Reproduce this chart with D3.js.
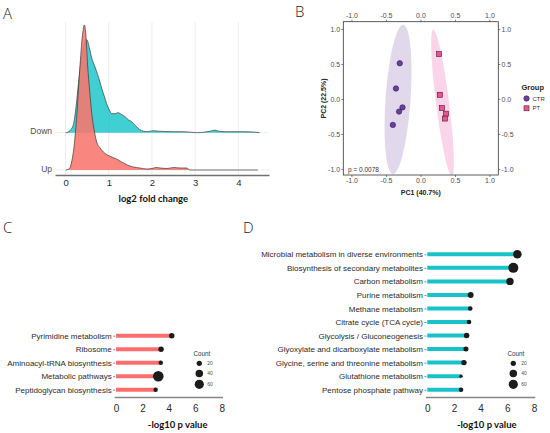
<!DOCTYPE html>
<html>
<head>
<meta charset="utf-8">
<script src="https://cdn.jsdelivr.net/npm/d3@7"></script>
<style>
  body { margin: 0; background: #fff; }
  svg { display: block; font-family: "Liberation Sans", Arial, sans-serif; }
</style>
</head>
<body>
<svg id="fig" width="550" height="433" font-family="Liberation Sans, Arial, sans-serif"></svg>
<script>
// ---- panel A: ridgeline of log2 fold change ----
var ridgeGroups = ["Up", "Down"];
var foldTicks = [0, 1, 2, 3, 4];
var downX = [0, 0.05, 0.12, 0.18, 0.24, 0.30, 0.36, 0.42, 0.49, 0.55, 0.61, 0.67, 0.72, 0.78, 0.84, 0.90, 0.95, 1.01, 1.07, 1.14,
             1.22, 1.30, 1.38, 1.45, 1.53, 1.62, 1.72, 1.80, 1.88, 1.95, 2.03, 2.15, 2.30, 2.50, 2.70, 2.90, 3.04, 3.20, 3.35, 3.45,
             3.55, 3.70, 3.90, 4.10, 4.30, 4.49];
var downDensity = [0, 0.01, 0.06, 0.16, 0.5, 1.0, 1.44, 1.72, 1.86, 1.70, 1.48, 1.34, 1.22, 1.06, 0.88, 0.72, 0.58, 0.46, 0.38, 0.38,
                   0.40, 0.36, 0.32, 0.26, 0.22, 0.14, 0.06, 0.03, 0.02, 0.03, 0.04, 0.03, 0.024, 0.02, 0.02, 0.01, 0, 0.01, 0.03, 0.05,
                   0.03, 0.02, 0.02, 0.02, 0.016, 0];
var upX = [0, 0.05, 0.10, 0.14, 0.20, 0.26, 0.335, 0.40, 0.435, 0.47, 0.51, 0.56, 0.61, 0.67, 0.72, 0.80, 0.875, 0.97, 1.07, 1.18,
           1.30, 1.43, 1.57, 1.72, 1.88, 2.00, 2.10, 2.20, 2.35, 2.50, 2.65, 2.80, 2.88, 3.00, 4.45];
var upDensity = [0, 0.01, 0.04, 0.16, 0.5, 1.1, 2.1, 2.76, 2.9, 2.7, 2.1, 1.56, 1.1, 0.76, 0.56, 0.44, 0.36, 0.30, 0.26, 0.22,
                 0.16, 0.10, 0.06, 0.04, 0.02, 0.03, 0.05, 0.04, 0.03, 0.05, 0.04, 0.04, 0, 0, 0];

// ---- panel B: PCA ----
var pcaTicks = [-1, -0.5, 0, 0.5, 1];
var ctrPC1 = [-0.30, -0.355, -0.26, -0.31, -0.40];
var ctrPC2 = [0.51, 0.15, -0.12, -0.18, -0.37];
var ptPC1 = [0.27, 0.28, 0.31, 0.37, 0.355];
var ptPC2 = [0.64, 0.06, -0.13, -0.21, -0.28];
var groupNames = ["CTR", "PT"];
var ellipseCenter = [[-0.325, -0.005], [0.32, -0.055]];
var ellipseMajor = [[0.075, 1.065], [-0.135, 1.045]];
var ellipseMinor = [[0.18, -0.0123], [0.0935, 0.0117]];

// ---- panel C: up-regulated pathways ----
var pathC = ["Pyrimidine metabolism", "Ribosome", "Aminoacyl-tRNA biosynthesis", "Metabolic pathways", "Peptidoglycan biosynthesis"];
var pvalC = [4.22, 3.41, 3.39, 3.20, 3.00];
var countC = [21, 21, 14, 80, 14];

// ---- panel D: down-regulated pathways ----
var pathD = ["Microbial metabolism in diverse environments", "Biosynthesis of secondary metabolites", "Carbon metabolism",
             "Purine metabolism", "Methane metabolism", "Citrate cycle (TCA cycle)", "Glycolysis / Gluconeogenesis",
             "Glyoxylate and dicarboxylate metabolism", "Glycine, serine and threonine metabolism", "Glutathione metabolism",
             "Pentose phosphate pathway"];
var pvalD = [6.75, 6.45, 6.20, 3.25, 3.22, 3.13, 2.95, 2.90, 2.75, 2.53, 2.53];
var countD = [52, 71, 39, 25, 15, 15, 21, 18, 21, 8, 15];

var pTicks = [0, 2, 4, 6, 8];
var countLegend = [20, 40, 60];

var svg = d3.select("#fig");
var titleFont = "Lato, 'Open Sans', sans-serif";

function panelLetter(txt, x, y) {
  svg.append("text").attr("x", x).attr("y", y).text(txt)
    .attr("font-family", "'Open Sans', sans-serif").attr("font-weight", 300)
    .attr("font-size", 15).attr("fill", "#222");
}

// ================= A =================
panelLetter("A", 3, 18.5);
var gA = svg.append("g");
var xA = d3.scaleLinear().domain([-0.245, 4.71]).range([55, 269]);
var yA = d3.scalePoint().domain(ridgeGroups).range([170, 132.7]);
var hA = d3.scaleLinear().domain([0, 1]).range([0, 50]);

gA.selectAll(".vgrid").data(foldTicks).enter().append("line")
  .attr("x1", function(d) { return xA(d); }).attr("x2", function(d) { return xA(d); })
  .attr("y1", 22).attr("y2", 175)
  .attr("stroke", "#e8e8e8").attr("stroke-width", 0.8);
gA.selectAll(".hgrid").data(ridgeGroups).enter().append("line")
  .attr("x1", 55).attr("x2", 269)
  .attr("y1", function(d) { return yA(d); }).attr("y2", function(d) { return yA(d); })
  .attr("stroke", "#e8e8e8").attr("stroke-width", 0.8);

var ridges = [
  {group: "Down", xs: downX, dens: downDensity, fill: "#00BFC4", op: 0.75},
  {group: "Up", xs: upX, dens: upDensity, fill: "#F8766D", op: 0.88}
];
ridges.forEach(function(r) {
  var base = yA(r.group);
  var pts = r.xs.map(function(v, i) { return [v, r.dens[i]]; });
  var area = d3.area().curve(d3.curveMonotoneX)
    .x(function(p) { return xA(p[0]); })
    .y0(base)
    .y1(function(p) { return base - hA(p[1]); });
  var line = d3.line().curve(d3.curveMonotoneX)
    .x(function(p) { return xA(p[0]); })
    .y(function(p) { return base - hA(p[1]); });
  gA.append("path").attr("d", area(pts)).attr("fill", r.fill).attr("fill-opacity", r.op);
  gA.append("path").attr("d", line(pts)).attr("fill", "none").attr("stroke", "#3a3a3a").attr("stroke-width", 0.7);
});

gA.selectAll(".rlab").data(ridgeGroups).enter().append("text")
  .attr("x", 52).attr("y", function(d) { return yA(d) + 1.6; })
  .attr("text-anchor", "end").attr("font-size", 8.5).attr("fill", "#4d4d4d")
  .text(function(d) { return d; });

var axA = gA.append("g").attr("transform", "translate(0,175)")
  .call(d3.axisBottom(xA).tickValues(foldTicks).tickFormat(d3.format("d"))
    .tickSize(0).tickSizeOuter(0).tickPadding(4.5));
axA.attr("font-family", null).attr("font-size", null);
axA.select(".domain").attr("stroke", "#707070").attr("stroke-width", 1.6);
axA.selectAll("text").attr("font-size", 9.5).attr("fill", "#2a2a2a");
gA.append("text").attr("x", 153.3).attr("y", 202).attr("text-anchor", "middle")
  .attr("font-family", titleFont).attr("font-weight", "bold").attr("font-size", 9.5).attr("fill", "#111")
  .text("log2 fold change");

// ================= B =================
panelLetter("B", 295, 17);
var gB = svg.append("g");
var xB = d3.scaleLinear().domain([-1.118, 1.128]).range([343.3, 498.3]);
var yB = d3.scaleLinear().domain([-1.086, 1.104]).range([175, 21.7]);

gB.append("clipPath").attr("id", "clipB").append("rect")
  .attr("x", 343.3).attr("y", 21.7).attr("width", 155).attr("height", 153.3);

var ellColors = ["#6a3d9a", "#e7298a"];
var angles = d3.range(0, 361, 4).map(function(a) { return a * Math.PI / 180; });
groupNames.forEach(function(g, i) {
  var c = ellipseCenter[i], M = ellipseMajor[i], m = ellipseMinor[i];
  var line = d3.line()
    .x(function(t) { return xB(c[0] + M[0] * Math.cos(t) + m[0] * Math.sin(t)); })
    .y(function(t) { return yB(c[1] + M[1] * Math.cos(t) + m[1] * Math.sin(t)); });
  gB.append("path").attr("d", line(angles) + "Z").attr("clip-path", "url(#clipB)")
    .attr("fill", ellColors[i]).attr("fill-opacity", 0.2).attr("stroke", "none");
});

var fmtB = function(d) { return d.toFixed(1); };
function styleAxisB(sel) {
  sel.attr("font-family", null).attr("font-size", null);
  sel.select(".domain").remove();
  sel.selectAll("line").attr("stroke", "#333").attr("stroke-width", 0.6);
  sel.selectAll("text").attr("font-size", 7).attr("fill", "#4d4d4d");
}
gB.append("g").attr("transform", "translate(0,175)")
  .call(d3.axisBottom(xB).tickValues(pcaTicks).tickFormat(fmtB).tickSize(2).tickPadding(1.5)).call(styleAxisB);
gB.append("g").attr("transform", "translate(0,21.7)")
  .call(d3.axisTop(xB).tickValues(pcaTicks).tickFormat(fmtB).tickSize(2).tickPadding(1.5)).call(styleAxisB);
gB.append("g").attr("transform", "translate(343.3,0)")
  .call(d3.axisLeft(yB).tickValues(pcaTicks).tickFormat(fmtB).tickSize(2).tickPadding(1.2)).call(styleAxisB);
gB.append("g").attr("transform", "translate(498.3,0)")
  .call(d3.axisRight(yB).tickValues(pcaTicks).tickFormat(fmtB).tickSize(2).tickPadding(1.2)).call(styleAxisB);
gB.append("rect").attr("x", 343.3).attr("y", 21.7).attr("width", 155).attr("height", 153.3)
  .attr("fill", "none").attr("stroke", "#333").attr("stroke-width", 0.8);

gB.selectAll(".ctr").data(ctrPC1).enter().append("circle")
  .attr("cx", function(d) { return xB(d); })
  .attr("cy", function(d, i) { return yB(ctrPC2[i]); })
  .attr("r", 2.7).attr("fill", "#6b3fa0").attr("stroke", "#2e1a4f").attr("stroke-width", 0.6);
gB.selectAll(".pt").data(ptPC1).enter().append("rect")
  .attr("x", function(d) { return xB(d) - 2.5; })
  .attr("y", function(d, i) { return yB(ptPC2[i]) - 2.5; })
  .attr("width", 5).attr("height", 5)
  .attr("fill", "#e8558f").attr("stroke", "#4a1633").attr("stroke-width", 0.6);

gB.append("text").attr("x", 348).attr("y", 172.3).attr("font-size", 6.5).attr("fill", "#333").text("p = 0.0078");
gB.append("text").attr("x", 420.8).attr("y", 195.3).attr("text-anchor", "middle")
  .attr("font-weight", "bold").attr("font-size", 7).attr("fill", "#222").text("PC1 (40.7%)");
gB.append("text").attr("transform", "translate(325.8,98.5) rotate(-90)").attr("text-anchor", "middle")
  .attr("font-weight", "bold").attr("font-size", 7).attr("fill", "#222").text("PC2 (22.5%)");

// legend
gB.append("text").attr("x", 521.5).attr("y", 90).attr("font-weight", "bold").attr("font-size", 7.5).attr("fill", "#222").text("Group");
gB.append("circle").attr("cx", 526.5).attr("cy", 98.5).attr("r", 2.7)
  .attr("fill", "#6b3fa0").attr("stroke", "#2e1a4f").attr("stroke-width", 0.6);
gB.append("rect").attr("x", 524).attr("y", 105.8).attr("width", 5).attr("height", 5)
  .attr("fill", "#e8558f").attr("stroke", "#4a1633").attr("stroke-width", 0.6);
gB.selectAll(".glab").data(groupNames).enter().append("text")
  .attr("x", 532.5).attr("y", function(d, i) { return 100.6 + i * 9.8; })
  .attr("font-size", 6).attr("fill", "#333").text(function(d) { return d; });

// ================= C & D =================
var rScale = d3.scaleSqrt().domain([0, 60]).range([0, 4.6]);

function lollipop(opts) {
  var g = svg.append("g");
  var x = d3.scaleLinear().domain([0, 8]).range(opts.xr);
  var y = d3.scalePoint().domain(opts.cats).range(opts.yr);

  var ax = g.append("g").attr("transform", "translate(0,397.5)")
    .call(d3.axisBottom(x).tickValues(pTicks).tickFormat(d3.format("d")).tickSize(0).tickSizeOuter(0).tickPadding(7));
  ax.attr("font-family", null).attr("font-size", null);
  ax.select(".domain").attr("stroke", "#858585").attr("stroke-width", 1.7)
    .attr("d", "M" + (opts.xr[0] - 1.3) + ",0H" + (opts.xr[1] + 1.3));
  ax.selectAll("text").attr("font-size", 10).attr("fill", "#2a2a2a");

  var ay = g.append("g").attr("transform", "translate(" + (x(0) - 0.8) + ",0)")
    .call(d3.axisLeft(y).tickSize(2).tickPadding(1.5));
  ay.attr("font-family", null).attr("font-size", null);
  ay.select(".domain").remove();
  ay.selectAll("line").attr("stroke", "#333").attr("stroke-width", 0.6);
  ay.selectAll("text").attr("font-size", 8).attr("fill", "#2a2a2a");

  g.selectAll(".bar").data(opts.vals).enter().append("line")
    .attr("x1", x(0)).attr("x2", function(d) { return x(d); })
    .attr("y1", function(d, i) { return y(opts.cats[i]); })
    .attr("y2", function(d, i) { return y(opts.cats[i]); })
    .attr("stroke", opts.color).attr("stroke-width", 4);
  g.selectAll(".dot").data(opts.vals).enter().append("circle")
    .attr("cx", function(d) { return x(d); })
    .attr("cy", function(d, i) { return y(opts.cats[i]); })
    .attr("r", function(d, i) { return rScale(opts.counts[i]); })
    .attr("fill", "#1c1c1c");

  g.append("text").attr("x", opts.titleX).attr("y", 428).attr("text-anchor", "middle")
    .attr("font-family", titleFont).attr("font-weight", "bold").attr("font-size", 9.5).attr("fill", "#111")
    .text("-log10 p value");

  // size legend
  g.append("text").attr("x", opts.legX + 2.5).attr("y", 355.5).attr("text-anchor", "middle")
    .attr("font-size", 6.3).attr("fill", "#333").text("Count");
  var legY = [363.3, 373.5, 384.3];
  g.selectAll(".lc").data(countLegend).enter().append("circle")
    .attr("cx", opts.legX).attr("cy", function(d, i) { return legY[i]; })
    .attr("r", function(d) { return rScale(d); }).attr("fill", "#1c1c1c");
  g.selectAll(".lt").data(countLegend).enter().append("text")
    .attr("x", opts.legX + 8).attr("y", function(d, i) { return legY[i] + 1.8; })
    .attr("font-size", 5).attr("fill", "#4d4d4d").text(function(d) { return d; });
}

panelLetter("C", 3, 232.7);
lollipop({cats: pathC, vals: pvalC, counts: countC, color: "#fb6e6e",
          xr: [116, 221.7], yr: [335.7, 389.7], legX: 199.3, titleX: 177.7});

panelLetter("D", 243, 232.7);
lollipop({cats: pathD, vals: pvalD, counts: countD, color: "#19c2c9",
          xr: [427.3, 534], yr: [254.3, 389.7], legX: 513.3, titleX: 486.8});
</script>
</body>
</html>
